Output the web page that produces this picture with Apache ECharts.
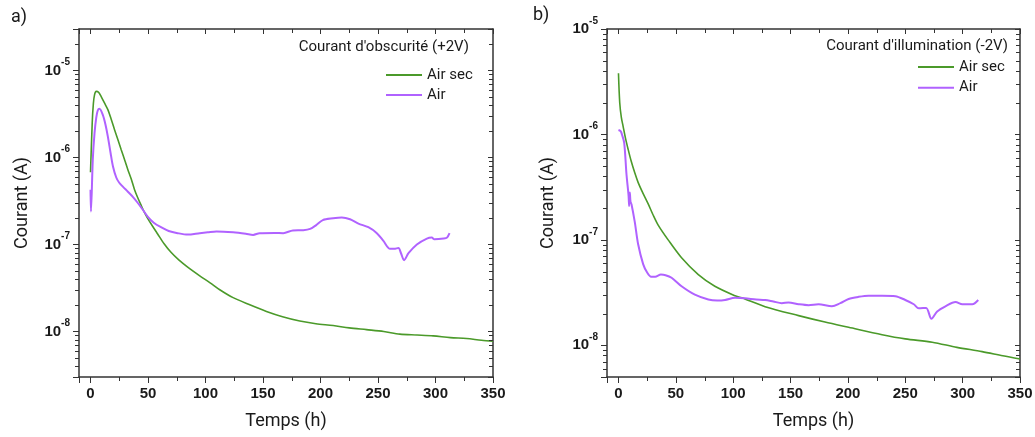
<!DOCTYPE html>
<html>
<head>
<meta charset="utf-8">
<script src="https://cdn.jsdelivr.net/npm/echarts@6/dist/echarts.min.js"></script>
<style>
html,body{margin:0;padding:0;background:#fff;}
#chart{width:1035px;height:437px;}
</style>
</head>
<body>
<div id="chart"></div>
<script>
// ---- Data (time in hours, current in A) ----
// a) Dark current (+2V)
const tDarkDry = [0, 1.5, 2.5, 3.5, 5, 7, 9.3, 12, 15.1, 18, 20.9, 24, 26.7, 30, 32.5, 35.5, 38.3, 41, 44.2, 47, 49.7, 54, 58.4, 64, 70, 77, 84.5, 95, 104, 112.4, 124, 138, 153, 167, 182, 196, 211, 225, 240, 255, 269, 284, 298, 313, 327, 340, 350];
const iDarkDry = [6.76e-7, 2.51e-6, 4.17e-6, 5.25e-6, 5.75e-6, 5.62e-6, 5.01e-6, 4.27e-6, 3.55e-6, 2.75e-6, 2.09e-6, 1.58e-6, 1.23e-6, 9.12e-7, 7.24e-7, 5.62e-7, 4.27e-7, 3.47e-7, 2.79e-7, 2.32e-7, 2.00e-7, 1.62e-7, 1.32e-7, 1.02e-7, 8.13e-8, 6.61e-8, 5.50e-8, 4.37e-8, 3.63e-8, 3.02e-8, 2.45e-8, 2.04e-8, 1.70e-8, 1.48e-8, 1.32e-8, 1.23e-8, 1.17e-8, 1.10e-8, 1.05e-8, 1.00e-8, 9.33e-9, 9.12e-9, 8.91e-9, 8.51e-9, 8.32e-9, 7.94e-9, 7.76e-9];
const tDarkAir = [0, 0.4, 2, 3.5, 5, 6.3, 7.8, 10.7, 13, 15.1, 17.5, 19.5, 22.4, 25, 28.5, 32.3, 37, 41, 45.5, 49.7, 55, 61.3, 68, 75.8, 84.5, 95, 102, 109.5, 124, 135, 141.4, 147, 160, 167.6, 176, 185, 191, 196, 202, 211, 218.5, 225.7, 233, 241.6, 249, 254.7, 260.5, 264, 267.8, 270, 272.7, 276.5, 283.8, 292.5, 296.8, 299, 307, 310, 312.2];
const iDarkAir = [4.27e-7, 2.40e-7, 9.55e-7, 1.91e-6, 2.88e-6, 3.47e-6, 3.63e-6, 3.09e-6, 2.40e-6, 1.74e-6, 1.12e-6, 7.94e-7, 5.89e-7, 5.13e-7, 4.57e-7, 4.07e-7, 3.51e-7, 3.02e-7, 2.51e-7, 2.09e-7, 1.78e-7, 1.58e-7, 1.43e-7, 1.35e-7, 1.30e-7, 1.35e-7, 1.38e-7, 1.41e-7, 1.38e-7, 1.33e-7, 1.29e-7, 1.35e-7, 1.36e-7, 1.35e-7, 1.45e-7, 1.46e-7, 1.51e-7, 1.66e-7, 1.91e-7, 2.00e-7, 2.04e-7, 1.95e-7, 1.74e-7, 1.58e-7, 1.35e-7, 1.10e-7, 8.91e-8, 8.91e-8, 9.12e-8, 7.94e-8, 6.61e-8, 7.94e-8, 1.00e-7, 1.17e-7, 1.20e-7, 1.15e-7, 1.17e-7, 1.20e-7, 1.35e-7];
// b) Illumination current (-2V)
const tIllDry = [0, 1.1, 2.5, 4, 6, 8.4, 11, 14.2, 17.1, 21, 25.9, 30, 34.6, 43.3, 55, 69.6, 84, 101.6, 107.5, 127.8, 157, 180, 200.6, 229.8, 250, 273.5, 295, 317, 335, 350];
const iIllDry = [3.80e-6, 2.00e-6, 1.45e-6, 1.20e-6, 9.33e-7, 7.24e-7, 5.62e-7, 4.32e-7, 3.51e-7, 2.82e-7, 2.19e-7, 1.74e-7, 1.38e-7, 1.00e-7, 6.76e-8, 4.68e-8, 3.63e-8, 2.95e-8, 2.82e-8, 2.32e-8, 1.91e-8, 1.66e-8, 1.48e-8, 1.26e-8, 1.15e-8, 1.07e-8, 9.55e-9, 8.71e-9, 7.94e-9, 7.41e-9];
const tIllAir = [0, 2, 3, 5, 7, 8.8, 9.3, 9.9, 10.5, 11.3, 14.2, 17.1, 21.5, 25, 28.5, 32, 37, 41, 46.3, 55, 66.6, 78.3, 86, 92.9, 101.6, 110.3, 120, 127.8, 135, 142.4, 148.2, 157, 165.7, 174.4, 186, 193.4, 200.6, 209.3, 218, 229.8, 241.4, 250, 257.4, 261.8, 268.2, 272.8, 277.8, 285, 293.8, 299.7, 308.4, 313.6];
const iIllAir = [1.10e-6, 1.07e-6, 1.00e-6, 8.32e-7, 4.17e-7, 2.63e-7, 2.09e-7, 2.82e-7, 2.29e-7, 2.19e-7, 1.48e-7, 9.12e-8, 5.89e-8, 4.90e-8, 4.47e-8, 4.47e-8, 4.68e-8, 4.62e-8, 4.37e-8, 3.63e-8, 3.02e-8, 2.72e-8, 2.66e-8, 2.69e-8, 2.82e-8, 2.79e-8, 2.72e-8, 2.69e-8, 2.60e-8, 2.51e-8, 2.54e-8, 2.45e-8, 2.40e-8, 2.45e-8, 2.34e-8, 2.51e-8, 2.75e-8, 2.88e-8, 2.95e-8, 2.95e-8, 2.92e-8, 2.69e-8, 2.45e-8, 2.24e-8, 2.26e-8, 1.78e-8, 2.09e-8, 2.34e-8, 2.57e-8, 2.45e-8, 2.45e-8, 2.69e-8];

const seriesNames = ['Air sec', 'Air'];
const panelTitles = ["Courant d'obscurité (+2V)", "Courant d'illumination (-2V)"];
const panelLabels = ['a)', 'b)'];
const xName = 'Temps (h)';
const yName = 'Courant (A)';
const xRange = [-10, 350];
const yRangeA = [3e-9, 3e-5];
const yRangeB = [5e-9, 1e-5];
const xMinorTicks = [25, 75, 125, 175, 225, 275, 325];

// ---- Styles ----
const GREEN = '#4b9a2a';
const PURPLE = '#b062ff';
const AXIS = '#333333';
const TXT = '#1a1a1a';
const RF = 'Roboto';
const TF = 'Liberation Sans';

function pairs(t, v) { return t.map((x, i) => [x, v[i]]); }

function minorYTicks(range) {
  const out = [];
  const lo = Math.floor(Math.log10(range[0])), hi = Math.ceil(Math.log10(range[1]));
  for (let e = lo; e < hi; e++) {
    for (let m = 2; m <= 9; m++) {
      const v = m * Math.pow(10, e);
      if (v > range[0] && v < range[1]) out.push(v);
    }
  }
  return out;
}

function minorData(yRange) {
  const d = [];
  minorYTicks(yRange).forEach(v => d.push([xRange[0], v, 0]));
  xMinorTicks.forEach(v => d.push([v, yRange[0], 1]));
  return d;
}

function renderMinor(params, api) {
  const cs = params.coordSys;
  const kind = api.value(2);
  const st = { stroke: AXIS, lineWidth: 1 };
  if (kind === 0) {
    const y = Math.round(api.coord([api.value(0), api.value(1)])[1]) + 0.5;
    return { type: 'group', children: [
      { type: 'line', shape: { x1: cs.x - 4, y1: y, x2: cs.x, y2: y }, style: st },
      { type: 'line', shape: { x1: cs.x + cs.width - 4, y1: y, x2: cs.x + cs.width, y2: y }, style: st }
    ]};
  } else {
    const x = Math.round(api.coord([api.value(0), api.value(1)])[0]) + 0.5;
    const yb = cs.y + cs.height, yt = cs.y;
    return { type: 'group', children: [
      { type: 'line', shape: { x1: x, y1: yb, x2: x, y2: yb + 4 }, style: st },
      { type: 'line', shape: { x1: x, y1: yt, x2: x, y2: yt + 4 }, style: st }
    ]};
  }
}

const richLabel = {
  b: { fontFamily: TF, fontWeight: 'bold', fontSize: 15, lineHeight: 18, color: TXT },
  s: { fontFamily: TF, fontWeight: 'bold', fontSize: 10, lineHeight: 10, padding: [0, 0, 16, 0], color: TXT }
};
function logFmt(v) {
  const e = Math.log10(v);
  const r = Math.round(e);
  if (Math.abs(e - r) > 1e-6) return '';
  return '{b|10}{s|' + r + '}';
}

function xAxes(gi) {
  return [
    { gridIndex: gi, type: 'value', min: xRange[0], max: xRange[1], splitNumber: 7, position: 'bottom',
      name: xName, nameLocation: 'middle', nameGap: 35,
      nameTextStyle: { fontFamily: RF, fontSize: 18, color: TXT },
      axisLine: { show: true, onZero: false, lineStyle: { color: AXIS, width: 1.5 } },
      axisTick: { show: true, inside: false, length: 6, lineStyle: { color: AXIS, width: 1 } },
      axisLabel: { margin: 9, fontFamily: TF, fontWeight: 'bold', fontSize: 15, color: TXT,
        formatter: v => (v < 0 ? '' : String(v)) },
      splitLine: { show: false } },
    { gridIndex: gi, type: 'value', min: xRange[0], max: xRange[1], splitNumber: 7, position: 'top',
      axisLine: { show: true, onZero: false, lineStyle: { color: AXIS, width: 1.5 } },
      axisTick: { show: true, inside: true, length: 5, lineStyle: { color: AXIS, width: 1 } },
      axisLabel: { show: false }, splitLine: { show: false } }
  ];
}
function yAxes(gi, range, gap) {
  return [
    { gridIndex: gi, type: 'log', logBase: 10, min: range[0], max: range[1], position: 'left',
      name: yName, nameLocation: 'middle', nameGap: gap, nameRotate: 90,
      nameTextStyle: { fontFamily: RF, fontSize: 18, color: TXT },
      axisLine: { show: true, onZero: false, lineStyle: { color: AXIS, width: 1.5 } },
      axisTick: { show: true, inside: false, length: 6, lineStyle: { color: AXIS, width: 1 } },
      axisLabel: { margin: 9, formatter: logFmt, rich: richLabel, showMinLabel: true, showMaxLabel: true },
      splitLine: { show: false }, minorTick: { show: false } },
    { gridIndex: gi, type: 'log', logBase: 10, min: range[0], max: range[1], position: 'right',
      axisLine: { show: true, onZero: false, lineStyle: { color: AXIS, width: 1.5 } },
      axisTick: { show: true, inside: true, length: 5, lineStyle: { color: AXIS, width: 1 } },
      axisLabel: { show: false }, splitLine: { show: false } }
  ];
}

function lineSeries(name, data, color, width, xi, yi) {
  return { type: 'line', name, data, xAxisIndex: xi, yAxisIndex: yi, showSymbol: false, symbol: 'none',
    smooth: 0.3, lineStyle: { color, width }, itemStyle: { color }, z: 3 };
}

const chart = echarts.init(document.getElementById('chart'), null, { renderer: 'canvas' });
chart.setOption({
  animation: false,
  backgroundColor: '#ffffff',
  textStyle: { fontFamily: RF },
  title: [
    { text: panelLabels[0], left: 11, top: 8, padding: 0, textStyle: { fontFamily: RF, fontSize: 18, fontWeight: 'normal', color: TXT } },
    { text: panelLabels[1], left: 533, top: 6, padding: 0, textStyle: { fontFamily: RF, fontSize: 18, fontWeight: 'normal', color: TXT } },
    { text: panelTitles[0], right: 566, top: 38, padding: 0, textStyle: { fontFamily: RF, fontSize: 15, fontWeight: 'normal', color: TXT, lineHeight: 18 } },
    { text: panelTitles[1], right: 27, top: 37, padding: 0, textStyle: { fontFamily: RF, fontSize: 15, fontWeight: 'normal', color: TXT, lineHeight: 18 } }
  ],
  legend: [
    { data: seriesNames, orient: 'vertical', left: 386, top: 66, padding: 0, itemGap: 2, icon: 'rect',
      itemWidth: 36, itemHeight: 2, selectedMode: false,
      textStyle: { fontFamily: RF, fontSize: 15, color: TXT, lineHeight: 18 } },
    { data: seriesNames, orient: 'vertical', left: 918, top: 58, padding: 0, itemGap: 2.7, icon: 'rect',
      itemWidth: 36, itemHeight: 2, selectedMode: false,
      textStyle: { fontFamily: RF, fontSize: 15, color: TXT, lineHeight: 18 } }
  ],
  grid: [
    { left: 79, top: 29, width: 414, height: 348, outerBoundsMode: 'none', containLabel: false },
    { left: 607, top: 29, width: 413, height: 348, outerBoundsMode: 'none', containLabel: false }
  ],
  xAxis: [...xAxes(0), ...xAxes(1)],
  yAxis: [...yAxes(0, yRangeA, 48), ...yAxes(1, yRangeB, 50)],
  series: [
    lineSeries(seriesNames[0], pairs(tDarkDry, iDarkDry), GREEN, 1.6, 0, 0),
    lineSeries(seriesNames[1], pairs(tDarkAir, iDarkAir), PURPLE, 2, 0, 0),
    lineSeries(seriesNames[0], pairs(tIllDry, iIllDry), GREEN, 1.6, 2, 2),
    lineSeries(seriesNames[1], pairs(tIllAir, iIllAir), PURPLE, 2, 2, 2),
    { type: 'custom', name: 'minorA', xAxisIndex: 0, yAxisIndex: 0, data: minorData(yRangeA), renderItem: renderMinor, clip: false, silent: true, z: 5 },
    { type: 'custom', name: 'minorB', xAxisIndex: 2, yAxisIndex: 2, data: minorData(yRangeB), renderItem: renderMinor, clip: false, silent: true, z: 5 }
  ]
});
</script>
</body>
</html>
